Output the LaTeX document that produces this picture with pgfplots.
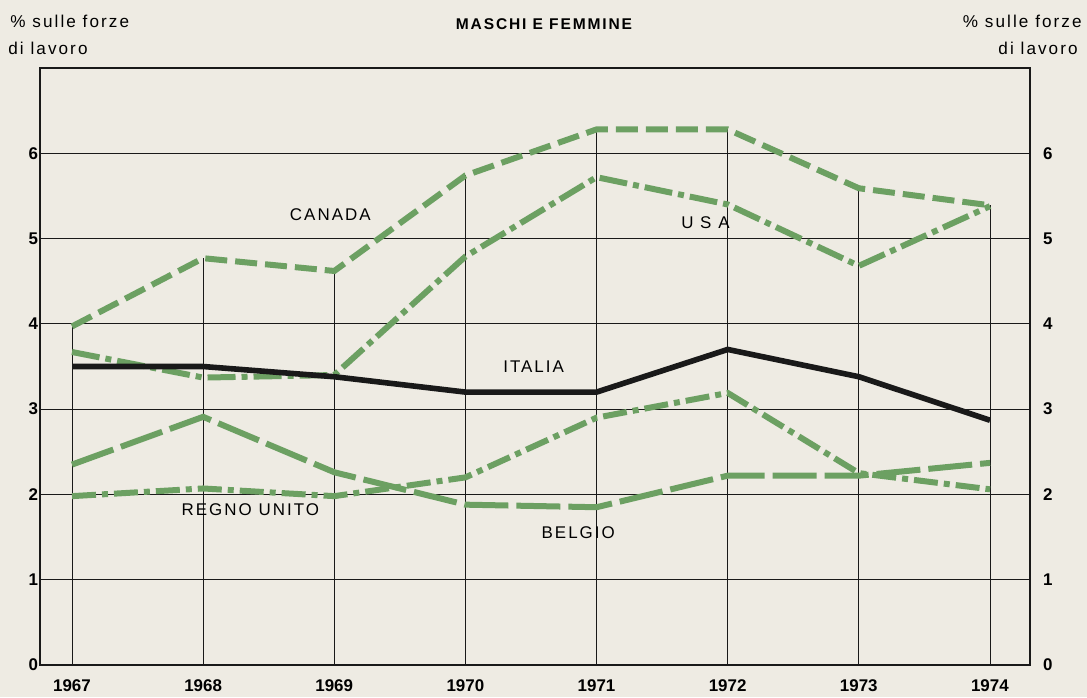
\documentclass[border=0pt]{standalone}
\usepackage{pgfplots}
\pgfplotsset{compat=1.18}
\usepackage{fontspec}
\setmainfont{Liberation Sans}
\newfontfamily\lbl[LetterSpace=12]{Liberation Sans}
\definecolor{paper}{RGB}{238,235,227}
\definecolor{lgreen}{RGB}{108,160,98}
\definecolor{ink}{RGB}{25,25,25}
\begin{document}
\begin{tikzpicture}[x=1bp,y=1bp]
\fill[paper] (0,0) rectangle (543.5,348.5);
\node[anchor=west,font=\lbl\fontsize{8.6}{9}\selectfont,inner sep=0] at (5,338) {\% sulle forze};
\node[anchor=west,font=\lbl\fontsize{8.6}{9}\selectfont,inner sep=0] at (4,324.5) {di lavoro};
\node[anchor=east,font=\lbl\fontsize{8.6}{9}\selectfont,inner sep=0] at (541,338) {\% sulle forze};
\node[anchor=east,font=\lbl\fontsize{8.6}{9}\selectfont,inner sep=0] at (539,324.5) {di lavoro};
\node[font=\lbl\bfseries\fontsize{7.8}{8}\selectfont,inner sep=0] at (272,336.5) {MASCHI E FEMMINE};
\begin{axis}[at={(20bp,16bp)}, anchor=south west, scale only axis,
  width=495bp, height=298.5bp,
  xmin=1966.756, xmax=1974.305, ymin=0, ymax=7,
  xtick={1967,...,1974}, ytick={0,...,6},
  major tick length=0pt,
  axis line style={ink, line width=1bp},
  ymajorgrids, grid style={ink, line width=0.5bp},
  /pgf/number format/assume math mode=true,
  x tick label style={/pgf/number format/1000 sep={}, font=\bfseries\fontsize{8.5}{10}\selectfont, yshift=-4bp},
  y tick label style={font=\bfseries\fontsize{8.5}{10}\selectfont, xshift=2.5bp},
  clip=false]
\addplot[ycomb, ink, line width=0.5bp, no markers] coordinates {
 (1967,3.97) (1968,4.77) (1969,4.62) (1970,5.74) (1971,6.28) (1972,6.28) (1973,5.59) (1974,5.39)};
% BELGIO
\addplot[lgreen, line width=3bp, dash pattern=on 22bp off 4bp, no markers] coordinates {
 (1967,2.35) (1968,2.91) (1969,2.26) (1970,1.88) (1971,1.85) (1972,2.22) (1973,2.22) (1974,2.37)};
% REGNO UNITO
\addplot[lgreen, line width=3bp, dash pattern=on 12bp off 3bp on 3bp off 3bp, no markers] coordinates {
 (1967,1.98) (1968,2.07) (1969,1.98) (1970,2.2) (1971,2.9) (1972,3.19) (1973,2.25) (1974,2.06)};
% USA
\addplot[lgreen, line width=3bp, dash pattern=on 14bp off 3bp on 3bp off 3bp, no markers] coordinates {
 (1967,3.67) (1968,3.37) (1969,3.4) (1970,4.79) (1971,5.72) (1972,5.4) (1973,4.68) (1974,5.38)};
% CANADA
\addplot[lgreen, line width=3bp, dash pattern=on 11bp off 4bp, no markers] coordinates {
 (1967,3.97) (1968,4.77) (1969,4.62) (1970,5.74) (1971,6.28) (1972,6.28) (1973,5.59) (1974,5.39)};
% ITALIA
\addplot[ink, line width=2.8bp, no markers] coordinates {
 (1967,3.5) (1968,3.5) (1969,3.38) (1970,3.2) (1971,3.2) (1972,3.7) (1973,3.38) (1974,2.87)};
\node[font=\lbl\fontsize{8.5}{10}\selectfont] at (axis cs:1968.97,5.28) {CANADA};
\node[font=\lbl\fontsize{8.5}{10}\selectfont] at (axis cs:1971.83,5.19) {U S A};
\node[font=\lbl\fontsize{8.5}{10}\selectfont] at (axis cs:1970.52,3.5) {ITALIA};
\node[font=\lbl\fontsize{8.5}{10}\selectfont] at (axis cs:1968.36,1.82) {REGNO UNITO};
\node[font=\lbl\fontsize{8.5}{10}\selectfont] at (axis cs:1970.86,1.55) {BELGIO};
\end{axis}
\begin{axis}[at={(20bp,16bp)}, anchor=south west, scale only axis,
  width=495bp, height=298.5bp,
  xmin=1966.756, xmax=1974.305, ymin=0, ymax=7,
  axis x line=none, axis y line*=right, ytick={0,...,6},
  major tick length=0pt,
  axis line style={ink, line width=1bp},
  /pgf/number format/assume math mode=true,
  y tick label style={font=\bfseries\fontsize{8.5}{10}\selectfont, xshift=3bp}]
\end{axis}
\pgfresetboundingbox
\useasboundingbox (0,0) rectangle (543.5,348.5);
\end{tikzpicture}
\end{document}
